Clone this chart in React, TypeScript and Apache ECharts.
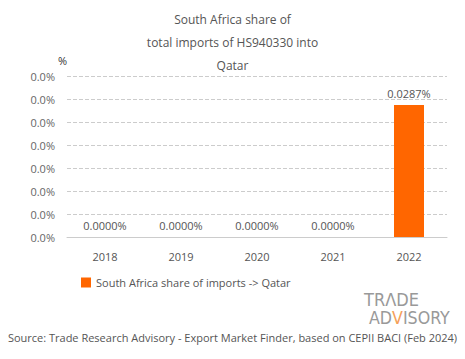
import React, { useEffect, useRef } from "react";
import * as echarts from "echarts";

const years = ["2018", "2019", "2020", "2021", "2022"];
const shareValues = [0, 0, 0, 0, 0.0287];
const seriesName = "South Africa share of imports -> Qatar";
const titleText = "South Africa share of\ntotal imports of HS940330 into\nQatar";
const sourceText = "Source: Trade Research Advisory - Export Market Finder, based on CEPII BACI (Feb 2024)";

const FONT = "'Open Sans', sans-serif";
const LOGO_FONT = "'DejaVu Sans Condensed', sans-serif";

export default function App() {
  const ref = useRef<HTMLDivElement>(null);
  useEffect(() => {
    if (!ref.current) return;
    const chart = echarts.init(ref.current, undefined, { renderer: "svg" });
    chart.setOption({
      animation: false,
      title: {
        text: titleText,
        left: "center",
        top: 3,
        textStyle: { fontFamily: FONT, fontSize: 12, fontWeight: "normal", color: "#555", lineHeight: 23 },
      },
      grid: { left: 67, right: 18, top: 76, bottom: 122 },
      legend: {
        left: 76,
        top: 272,
        itemWidth: 10,
        itemHeight: 10,
        itemGap: 5,
        icon: "rect",
        textStyle: { fontFamily: FONT, fontSize: 11, color: "#555" },
        data: [seriesName],
      },
      xAxis: {
        type: "category",
        data: years,
        axisLine: { lineStyle: { color: "#ccc" } },
        axisTick: { show: false },
        axisLabel: { fontFamily: FONT, fontSize: 11, color: "#555", margin: 14 },
      },
      yAxis: {
        type: "value",
        min: 0,
        max: 0.035,
        interval: 0.005,
        name: "%",
        nameLocation: "end",
        nameGap: 10,
        nameTextStyle: { fontFamily: FONT, fontSize: 11, color: "#333", align: "right" },
        axisLine: { show: false },
        axisTick: { show: false },
        splitLine: { lineStyle: { color: "#ccc", type: "dashed" } },
        axisLabel: {
          fontFamily: FONT,
          fontSize: 11,
          color: "#666",
          margin: 12,
          formatter: (v: number) => v.toFixed(1) + "%",
        },
      },
      series: [
        {
          name: seriesName,
          type: "bar",
          data: shareValues,
          barWidth: 30,
          itemStyle: { color: "#ff6600" },
          label: {
            show: true,
            position: "top",
            distance: 6,
            fontFamily: FONT,
            fontSize: 11,
            color: "#555",
            formatter: (p: any) => p.value.toFixed(4) + "%",
          },
        },
      ],
      graphic: [
        {
          type: "text",
          left: "center",
          top: 332,
          style: { text: sourceText, fontFamily: FONT, fontSize: 11, fill: "#555" },
        },
        {
          type: "text",
          x: 364,
          y: 291,
          scaleX: 1.0,
          style: {
            text: "TRΛDE",
            fontSize: 18,
            lineHeight: 16,
            fontFamily: LOGO_FONT,
            fill: "#999",
          },
        },
        {
          type: "text",
          x: 369,
          y: 309,
          scaleX: 0.98,
          style: {
            text: "{g|AD}{o|V}{g|ISORY}",
            rich: {
              g: { fontSize: 18, lineHeight: 16, fill: "#999", fontFamily: LOGO_FONT },
              o: { fontSize: 18, lineHeight: 16, fill: "#f5a05a", fontFamily: LOGO_FONT },
            },
          },
        },
      ],
    });
    return () => chart.dispose();
  }, []);
  return <div ref={ref} style={{ width: 465, height: 359, position: "absolute", left: 0, top: 0 }} />;
}
